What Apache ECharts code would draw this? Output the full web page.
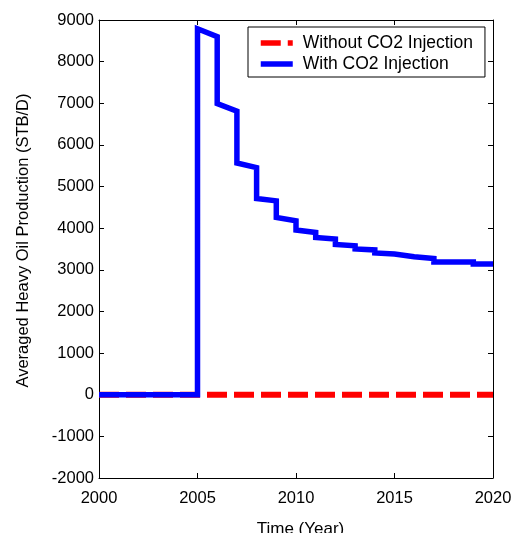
<!DOCTYPE html>
<html>
<head>
<meta charset="utf-8">
<script src="https://cdn.jsdelivr.net/npm/echarts@6/dist/echarts.min.js"></script>
<style>
html,body{margin:0;padding:0;background:#fff;}
#chart{width:519px;height:533px;}
</style>
</head>
<body>
<div id="chart"></div>
<script>
// Data
const seriesNames = ['Without CO2 Injection', 'With CO2 Injection'];
const withoutYears = [2000, 2020];
const withoutValues = [0, 0];
const withYears = [2000, 2005, 2005, 2006, 2006, 2007, 2007, 2008, 2008, 2009, 2009, 2010, 2010, 2011, 2011, 2012, 2012, 2013, 2013, 2014, 2014, 2015, 2015, 2016, 2016, 2017, 2017, 2018, 2019, 2019, 2020];
const withValues = [0, 0, 8790, 8600, 6990, 6810, 5565, 5455, 4712, 4657, 4257, 4177, 3957, 3897, 3777, 3741, 3609, 3578, 3501, 3477, 3405, 3381, 3338, 3314, 3280, 3270, 3189, 3190, 3190, 3141, 3140];
const xTicks = [2000, 2005, 2010, 2015, 2020];
const yTicks = [-2000, -1000, 0, 1000, 2000, 3000, 4000, 5000, 6000, 7000, 8000, 9000];

const zip = (xs, ys) => xs.map((x, i) => [x, ys[i]]);

const chart = echarts.init(document.getElementById('chart'), null, {renderer: 'canvas'});
const font = 'Arial, "Liberation Sans", Helvetica, sans-serif';
const axisCommon = {
  type: 'value',
  splitLine: {show: false},
  axisLine: {show: true, onZero: false, lineStyle: {color: '#000', width: 1}},
  axisTick: {show: true, inside: true, length: 5, lineStyle: {color: '#000'}},
};
chart.setOption({
  animation: false,
  backgroundColor: '#fff',
  textStyle: {fontFamily: font, color: '#000'},
  grid: {left: 99, right: 26, top: 20, bottom: 55, containLabel: false, outerBoundsMode: 'none'},
  legend: {
    data: seriesNames,
    orient: 'vertical',
    left: 248,
    top: 27,
    padding: [7, 12, 4, 10],
    itemGap: 3,
    itemWidth: 32,
    itemHeight: 14,
    backgroundColor: '#fff',
    borderColor: '#000',
    borderWidth: 1,
    borderRadius: 0,
    itemStyle: {opacity: 0},
    lineStyle: {width: 5.5},
    textStyle: {fontSize: 17.5, color: '#000', fontFamily: font, padding: [0, 0, 0, 5]}
  },
  xAxis: [
    Object.assign({}, axisCommon, {
      min: xTicks[0], max: xTicks[xTicks.length - 1], interval: 5,
      position: 'bottom',
      name: 'Time (Year)', nameLocation: 'middle', nameGap: 43,
      nameTextStyle: {fontSize: 17, color: '#000', fontFamily: font, padding: [0, 0, 0, 9]},
      axisLabel: {fontSize: 16.5, color: '#000', margin: 12, fontFamily: font, formatter: v => String(v)}
    }),
    Object.assign({}, axisCommon, {
      min: xTicks[0], max: xTicks[xTicks.length - 1], interval: 5,
      position: 'top', axisLabel: {show: false}
    })
  ],
  yAxis: [
    Object.assign({}, axisCommon, {
      min: yTicks[0], max: yTicks[yTicks.length - 1], interval: 1000,
      position: 'left',
      name: 'Averaged Heavy Oil Production (STB/D)', nameLocation: 'middle', nameGap: 67,
      nameTextStyle: {fontSize: 16.5, color: '#000', fontFamily: font, padding: [0, 0, 0, 17]},
      axisLabel: {fontSize: 16.5, color: '#000', margin: 5, fontFamily: font, formatter: v => String(v)}
    }),
    Object.assign({}, axisCommon, {
      min: yTicks[0], max: yTicks[yTicks.length - 1], interval: 1000,
      position: 'right', axisLabel: {show: false}
    })
  ],
  series: [
    {
      name: seriesNames[0], type: 'line', symbol: 'none',
      xAxisIndex: 0, yAxisIndex: 0,
      data: zip(withoutYears, withoutValues),
      lineStyle: {color: '#ff0000', width: 6, type: [20, 7]},
      itemStyle: {color: '#ff0000'},
      z: 2
    },
    {
      name: seriesNames[1], type: 'line', symbol: 'none',
      xAxisIndex: 0, yAxisIndex: 0,
      data: zip(withYears, withValues),
      lineStyle: {color: '#0000ff', width: 5.5, join: 'miter'},
      itemStyle: {color: '#0000ff'},
      z: 3
    }
  ]
});
</script>
</body>
</html>
